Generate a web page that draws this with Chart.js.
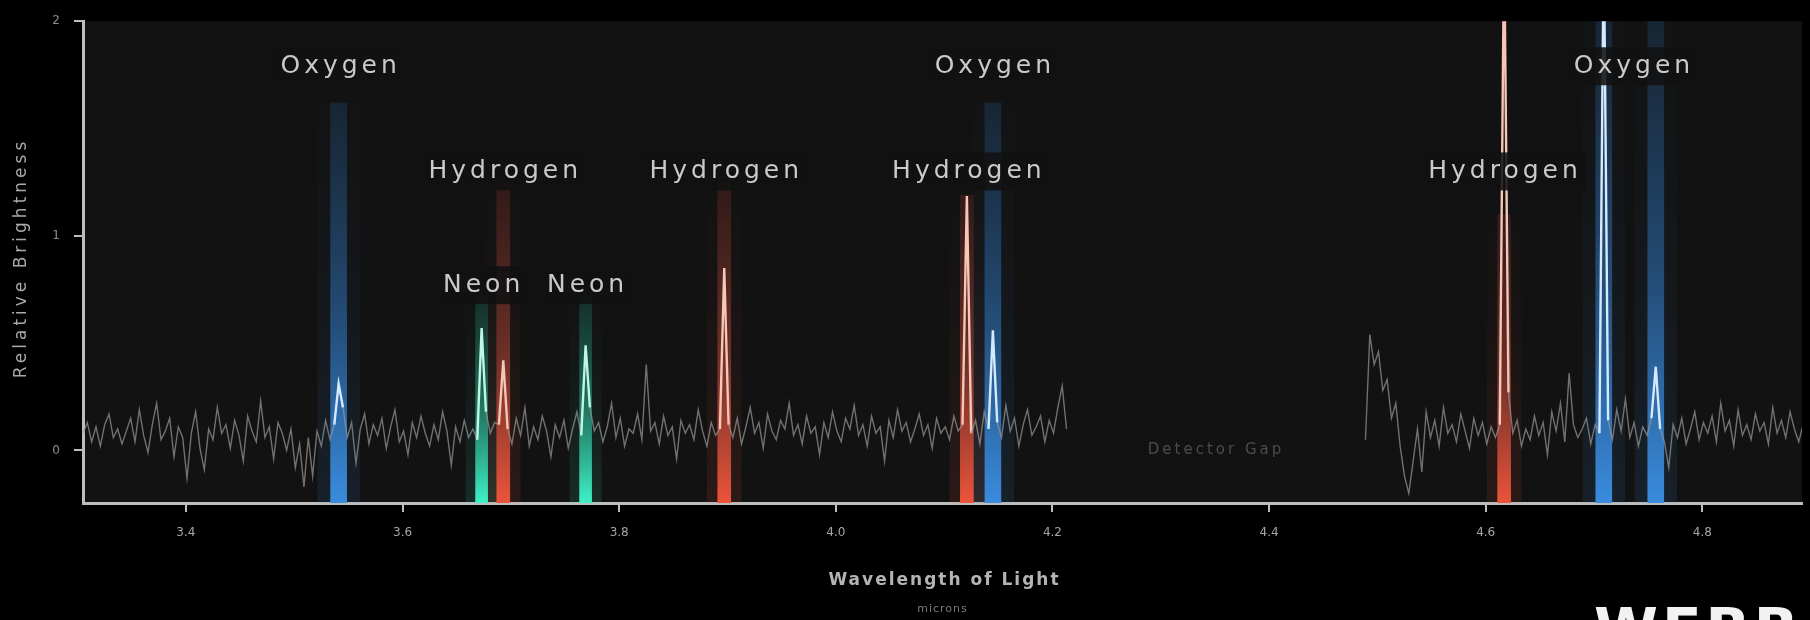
<!DOCTYPE html>
<html>
<head>
<meta charset="utf-8">
<title>Relative Brightness</title>
<script src="https://cdn.jsdelivr.net/npm/chart.js@4.4.1/dist/chart.umd.min.js"></script>
<style>
  html, body { margin: 0; padding: 0; background: #000; }
  #spectrum { display: block; }
</style>
</head>
<body>
<canvas id="spectrum" width="1810" height="620"></canvas>
<script>
/* spectrum samples (left side of the detector gap) */
let leftStart = 3.305
let rightStart = 4.489
let sampleStep = 0.004

let leftValues = [
  0.08, 0.13, 0.04, 0.11, 0.02, 0.12, 0.17, 0.06, 0.10, 0.03,
  0.09, 0.15, 0.04, 0.19, 0.07, -0.01, 0.12, 0.22, 0.05, 0.09,
  0.15, -0.03, 0.11, 0.06, -0.13, 0.08, 0.18, 0.01, -0.09, 0.10,
  0.05, 0.20, 0.08, 0.12, 0.01, 0.14, 0.07, -0.05, 0.16, 0.09,
  0.04, 0.23, 0.06, 0.11, -0.04, 0.13, 0.08, 0.00, 0.10, -0.08,
  0.03, -0.17, 0.06, -0.12, 0.09, 0.02, 0.14, 0.05, 0.12, 0.31,
  0.20, 0.06, 0.13, -0.06, 0.10, 0.17, 0.03, 0.12, 0.07, 0.15,
  0.01, 0.11, 0.19, 0.04, 0.09, -0.02, 0.13, 0.06, 0.16, 0.08,
  0.02, 0.12, 0.05, 0.18, 0.09, -0.07, 0.11, 0.04, 0.14, 0.06,
  0.10, 0.05, 0.57, 0.18, 0.08, 0.13, 0.12, 0.42, 0.10, 0.03,
  0.15, 0.07, 0.20, 0.02, 0.11, 0.05, 0.16, 0.09, -0.03, 0.12,
  0.06, 0.14, 0.01, 0.10, 0.18, 0.07, 0.49, 0.20, 0.09, 0.13,
  0.04, 0.11, 0.22, 0.06, 0.15, 0.02, 0.10, 0.08, 0.17, 0.05,
  0.40, 0.09, 0.13, 0.03, 0.16, 0.07, 0.11, -0.04, 0.14, 0.08,
  0.12, 0.05, 0.19, 0.09, 0.02, 0.13, 0.07, 0.10, 0.85, 0.12,
  0.06, 0.15, 0.03, 0.11, 0.20, 0.08, 0.13, 0.01, 0.17, 0.09,
  0.05, 0.14, 0.10, 0.22, 0.07, 0.12, 0.03, 0.16, 0.08, 0.11,
  -0.02, 0.13, 0.06, 0.18, 0.09, 0.04, 0.15, 0.10, 0.21, 0.07,
  0.12, 0.02, 0.16, 0.08, 0.11, -0.05, 0.14, 0.06, 0.19, 0.09,
  0.13, 0.04, 0.10, 0.17, 0.07, 0.12, 0.01, 0.15, 0.08, 0.11,
  0.05, 0.16, 0.09, 0.12, 1.185, 0.08, 0.14, 0.03, 0.18, 0.10,
  0.56, 0.13, 0.06, 0.21, 0.09, 0.15, 0.02, 0.12, 0.19, 0.07,
  0.11, 0.16, 0.04, 0.14, 0.08, 0.20, 0.30, 0.10
]

// right side of the detector gap
let rightValues = [
  0.05, 0.54, 0.40, 0.46, 0.28, 0.33, 0.15, 0.22, 0.02, -0.12,
  -0.20, -0.05, 0.10, -0.10, 0.18, 0.06, 0.14, 0.02, 0.20, 0.08,
  0.12, 0.04, 0.17, 0.09, 0.01, 0.15, 0.07, 0.13, 0.03, 0.11,
  0.06, 0.12, 2.40, 0.27, 0.08, 0.14, 0.02, 0.10, 0.05, 0.16,
  0.07, 0.13, -0.02, 0.18, 0.09, 0.22, 0.04, 0.36, 0.12, 0.06,
  0.10, 0.15, 0.03, 0.12, 0.08, 2.40, 0.14, 0.05, 0.19, 0.09,
  0.24, 0.06, 0.13, 0.02, 0.11, 0.07, 0.15, 0.39, 0.10, 0.04,
  -0.08, 0.12, 0.06, 0.15, 0.03, 0.10, 0.18, 0.05, 0.13, 0.08,
  0.16, 0.04, 0.22, 0.09, 0.14, 0.02, 0.19, 0.07, 0.12, 0.05,
  0.17, 0.09, 0.13, 0.03, 0.20, 0.08, 0.14, 0.06, 0.18, 0.10,
  0.04, 0.12
]

/* emission lines */
let lineElements = ['Oxygen', 'Neon', 'Hydrogen', 'Neon', 'Hydrogen', 'Hydrogen', 'Oxygen', 'Hydrogen', 'Oxygen', 'Oxygen']
let lineWavelengths = [3.541, 3.673, 3.693, 3.769, 3.897, 4.121, 4.145, 4.617, 4.709, 4.757]
let lineBandTops = [1.62, 0.72, 1.25, 0.72, 1.25, 1.19, 1.62, 1.1, 2, 2]

/* element labels */
let labelNames = ['Oxygen', 'Hydrogen', 'Neon', 'Neon', 'Hydrogen', 'Hydrogen', 'Oxygen', 'Hydrogen', 'Oxygen']
let labelWavelengths = [3.541, 3.693, 3.673, 3.769, 3.897, 4.121, 4.145, 4.616, 4.735]
let labelLevels = [1.79, 1.30, 0.77, 0.77, 1.30, 1.30, 1.79, 1.30, 1.79]

let gapLabel = 'Detector Gap'
let gapWavelength = 4.351

/* axes */
let xMin = 3.305
let xMax = 4.892
let yMin = -0.245
let yMax = 2
let xTickValues = [3.4, 3.6, 3.8, 4.0, 4.2, 4.4, 4.6, 4.8]
let yTickValues = [0, 1, 2]

// colours for each element: band bottom, band middle, band top, peak line
let elementColors = {
  Oxygen:   ['rgba(58,140,222,1)', 'rgba(42,98,156,0.72)', 'rgba(32,66,100,0.4)', '#d6eaff'],
  Hydrogen: ['rgba(236,84,58,1)', 'rgba(150,62,50,0.68)', 'rgba(78,34,30,0.5)', '#f6c6b6'],
  Neon:     ['rgba(62,242,200,1)', 'rgba(40,160,130,0.68)', 'rgba(24,88,74,0.4)', '#bff7e6']
}
let bandWidths = { Oxygen: 16, Hydrogen: 13, Neon: 12 }

// build the spectrum points, with a null in the gap so the line breaks
let spectrumPoints = []
leftValues.forEach(function(v, i) {
  spectrumPoints.push({ x: +(leftStart + i * sampleStep).toFixed(3), y: v })
})
spectrumPoints.push({ x: gapWavelength, y: null })
rightValues.forEach(function(v, i) {
  spectrumPoints.push({ x: +(rightStart + i * sampleStep).toFixed(3), y: v })
})

// vertical gradient for a band, from its bottom to its top
function bandGradient(context, element, glow) {
  let chart = context.chart
  if (!chart.chartArea || !context.raw) return 'transparent'
  let yScale = chart.scales.y
  let bottom = yScale.getPixelForValue(context.raw.y[0])
  let top = yScale.getPixelForValue(context.raw.y[1])
  let c = elementColors[element]
  let g = chart.ctx.createLinearGradient(0, bottom, 0, top)
  if (glow) {
    g.addColorStop(0, c[0].replace(/,[\d.]+\)$/, ',0.12)'))
    g.addColorStop(1, c[2].replace(/,[\d.]+\)$/, ',0.02)'))
    return g
  }
  g.addColorStop(0, c[0])
  g.addColorStop(0.45, c[1])
  g.addColorStop(1, c[2])
  return g
}

// one bar dataset per element (plus a soft glow behind it)
let bandDatasets = []
Object.keys(elementColors).forEach(function(element) {
  let pts = []
  lineElements.forEach(function(el, i) {
    if (el == element) pts.push({ x: lineWavelengths[i], y: [yMin, lineBandTops[i]] })
  })
  bandDatasets.push({
    type: 'bar', data: pts, order: 3, grouped: false,
    barThickness: bandWidths[element] * 2.6, borderWidth: 0,
    backgroundColor: function(ctx) { return bandGradient(ctx, element, true) }
  })
  bandDatasets.push({
    type: 'bar', data: pts, order: 2, grouped: false,
    barThickness: bandWidths[element], borderWidth: 0,
    backgroundColor: function(ctx) { return bandGradient(ctx, element, false) }
  })
})

// find the emission line that sits on either end of a segment
function lineAt(segCtx) {
  let a = segCtx.p0.parsed.x, b = segCtx.p1.parsed.x
  for (let i = 0; i < lineWavelengths.length; i++) {
    let w = lineWavelengths[i]
    if (Math.abs(a - w) < 0.0005 || Math.abs(b - w) < 0.0005) return lineElements[i]
  }
  return null
}

let spectrumDataset = {
  type: 'line', data: spectrumPoints, order: 1,
  borderColor: 'rgba(150,150,150,0.72)', borderWidth: 1.4,
  pointRadius: 0, tension: 0, spanGaps: false,
  segment: {
    borderColor: function(ctx) {
      let el = lineAt(ctx)
      return el ? elementColors[el][3] : undefined
    },
    borderWidth: function(ctx) { return lineAt(ctx) ? 2.4 : undefined }
  }
}

// background + all the free text
let decorPlugin = {
  id: 'decor',
  beforeDraw: function(chart) {
    let c = chart.ctx, a = chart.chartArea
    c.save()
    c.fillStyle = '#000'
    c.fillRect(0, 0, chart.width, chart.height)
    c.fillStyle = '#121212'
    c.fillRect(a.left, a.top, a.right - a.left, a.bottom - a.top)
    c.restore()
  },
  afterDatasetsDraw: function(chart) {
    let c = chart.ctx, xs = chart.scales.x, ys = chart.scales.y
    c.save()
    c.textAlign = 'center'
    c.textBaseline = 'middle'

    // detector gap note
    c.font = '15px "DejaVu Sans"'
    c.letterSpacing = '3px'
    c.fillStyle = '#4c4c4c'
    c.fillText(gapLabel, xs.getPixelForValue(gapWavelength), ys.getPixelForValue(0))

    // element names with a dark box behind them
    c.font = '25px "DejaVu Sans"'
    c.letterSpacing = '4px'
    labelNames.forEach(function(name, i) {
      let x = xs.getPixelForValue(labelWavelengths[i])
      let y = ys.getPixelForValue(labelLevels[i])
      let w = c.measureText(name).width
      c.fillStyle = 'rgba(17,17,17,0.88)'
      c.fillRect(x - w / 2 - 6, y - 19, w + 12, 38)
      c.fillStyle = '#cacaca'
      c.fillText(name, x + 2, y)
    })
    c.restore()
  },
  afterDraw: function(chart) {
    let c = chart.ctx, a = chart.chartArea
    c.save()
    c.textAlign = 'center'
    c.textBaseline = 'middle'

    c.font = 'bold 17px "DejaVu Sans"'
    c.letterSpacing = '2px'
    c.fillStyle = '#b4b4b4'
    c.fillText('Wavelength of Light', (a.left + a.right) / 2 + 2, 581)

    c.font = '11px "DejaVu Sans"'
    c.letterSpacing = '1px'
    c.fillStyle = '#7a7a7a'
    c.fillText('microns', (a.left + a.right) / 2, 609)

    c.translate(22, 258)
    c.rotate(-Math.PI / 2)
    c.font = '17px "DejaVu Sans"'
    c.letterSpacing = '4px'
    c.fillStyle = '#a8a8a8'
    c.fillText('Relative Brightness', 0, 0)
    c.restore()

    // telescope name, cut off by the bottom edge
    c.save()
    c.font = 'bold 58px "DejaVu Sans"'
    c.letterSpacing = '4px'
    c.textAlign = 'right'
    c.textBaseline = 'top'
    c.fillStyle = '#f2f2f2'
    c.fillText('WEBB', 1802, 606)
    c.restore()
  }
}

let chartCanvas = document.querySelector('#spectrum')
let ctx = chartCanvas.getContext('2d')

let spectrumChart = new Chart(ctx, {
  type: 'line',
  data: { datasets: bandDatasets.concat([spectrumDataset]) },
  options: {
    responsive: false,
    animation: false,
    devicePixelRatio: 1,
    layout: { padding: { left: 0, top: 17, right: 8, bottom: 0 } },
    plugins: { legend: { display: false }, tooltip: { enabled: false } },
    scales: {
      x: {
        type: 'linear', min: xMin, max: xMax, offset: false,
        afterFit: function(scale) { scale.height = 117 },
        afterBuildTicks: function(scale) { scale.ticks = xTickValues.map(function(v) { return { value: v } }) },
        ticks: {
          color: '#a4a4a4', padding: 14, maxRotation: 0,
          font: { family: 'DejaVu Sans', size: 12 },
          callback: function(v) { return v.toFixed(1) }
        },
        grid: { offset: false, drawOnChartArea: false, drawTicks: true, tickLength: 9, color: '#bdbdbd', lineWidth: 2 },
        border: { display: true, color: '#bdbdbd', width: 3 }
      },
      y: {
        type: 'linear', min: yMin, max: yMax,
        afterFit: function(scale) { scale.width = 83 },
        afterBuildTicks: function(scale) { scale.ticks = yTickValues.map(function(v) { return { value: v } }) },
        ticks: {
          color: '#8c8c8c', padding: 14,
          font: { family: 'DejaVu Sans', size: 12 },
          callback: function(v) { return String(v) }
        },
        grid: { offset: false, drawOnChartArea: false, drawTicks: true, tickLength: 9, color: '#bdbdbd', lineWidth: 2 },
        border: { display: true, color: '#bdbdbd', width: 3 }
      }
    }
  },
  plugins: [decorPlugin]
})
</script>
</body>
</html>
